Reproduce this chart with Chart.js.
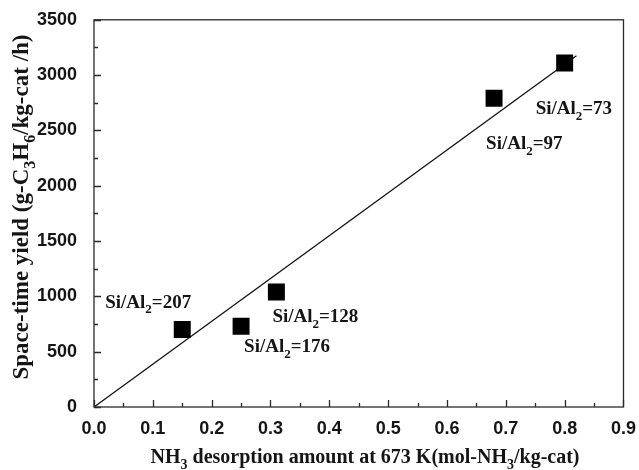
<!DOCTYPE html>
<html>
<head>
<meta charset="utf-8">
<script src="https://cdn.jsdelivr.net/npm/chart.js@4.4.1/dist/chart.umd.min.js"></script>
<style>
  html, body { margin: 0; padding: 0; background: #fff; }
  #wrap { width: 639px; height: 470px; position: relative; }
</style>
</head>
<body>
<div id="wrap"><canvas id="chart" width="639" height="470"></canvas></div>
<script>
// NH3 desorption amount vs space-time yield
const acidity = [0.15, 0.25, 0.31, 0.68, 0.80];
const yieldValues = [700, 730, 1040, 2790, 3110];
const ratioLabels = ['207', '176', '128', '97', '73'];
const fitX = [0, 0.82];
const fitY = [0, 3175];
const xTickValues = [0, 0.1, 0.2, 0.3, 0.4, 0.5, 0.6, 0.7, 0.8, 0.9];
const yTickValues = [0, 500, 1000, 1500, 2000, 2500, 3000, 3500];

const serif = '"Liberation Serif", "Times New Roman", serif';
const sans = '"Liberation Sans", Arial, sans-serif';
const ink = '#151515';

// label offsets from their point (px)
const labelOffsets = [[-77, -22], [3, 26], [-4, 30], [-8, 51], [-29, 51]];

// draws text with subscripts; parts: [text, isSub]
function drawParts(ctx, parts, x, y, size) {
    let cx = x;
    parts.forEach(p => {
        const sub = p[1];
        ctx.font = 'bold ' + (sub ? Math.round(size * 0.68) : size) + 'px ' + serif;
        ctx.fillText(p[0], cx, sub ? y + size * 0.3 : y);
        cx += ctx.measureText(p[0]).width;
    });
    return cx - x;
}
function partsWidth(ctx, parts, size) {
    let w = 0;
    parts.forEach(p => {
        ctx.font = 'bold ' + (p[1] ? Math.round(size * 0.68) : size) + 'px ' + serif;
        w += ctx.measureText(p[0]).width;
    });
    return w;
}

const framePlugin = {
    id: 'frame',
    afterDraw(chart) {
        const ctx = chart.ctx;
        const a = chart.chartArea;
        const xs = chart.scales.x, ys = chart.scales.y;
        ctx.save();
        ctx.strokeStyle = '#2a2a2a';
        ctx.lineWidth = 1.3;
        ctx.strokeRect(a.left, a.top, a.right - a.left, a.bottom - a.top);

        // inside ticks, longer on labelled values
        ctx.beginPath();
        for (let i = 0; i <= 18; i++) {
            const px = Math.round(xs.getPixelForValue(i * 0.05)) + 0.5;
            ctx.moveTo(px, a.bottom);
            ctx.lineTo(px, a.bottom - (i % 2 ? 4 : 7));
        }
        for (let i = 0; i <= 14; i++) {
            const py = Math.round(ys.getPixelForValue(i * 250)) + 0.5;
            ctx.moveTo(a.left, py);
            ctx.lineTo(a.left + (i % 2 ? 4 : 7), py);
        }
        ctx.stroke();

        ctx.fillStyle = ink;
        ctx.textBaseline = 'alphabetic';
        ctx.textAlign = 'left';

        // point annotations
        acidity.forEach((v, i) => {
            const px = xs.getPixelForValue(v) + labelOffsets[i][0];
            const py = ys.getPixelForValue(yieldValues[i]) + labelOffsets[i][1];
            drawParts(ctx, [['Si/Al', false], ['2', true], ['=' + ratioLabels[i], false]], px, py, 19);
        });

        // x axis title
        const xt = [['NH', false], ['3', true], [' desorption amount at 673 K(mol-NH', false], ['3', true], ['/kg-cat)', false]];
        const xw = partsWidth(ctx, xt, 20);
        drawParts(ctx, xt, 365 - xw / 2, 463, 20);

        // y axis title
        const yt = [['Space-time yield (g-C', false], ['3', true], ['H', false], ['6', true], ['/kg-cat /h)', false]];
        const yw = partsWidth(ctx, yt, 23);
        ctx.translate(28, 207);
        ctx.rotate(-Math.PI / 2);
        drawParts(ctx, yt, -yw / 2, 0, 23);
        ctx.restore();
    }
};

new Chart(document.getElementById('chart'), {
    type: 'scatter',
    data: {
        datasets: [
            {
                label: 'samples',
                data: acidity.map((v, i) => ({ x: v, y: yieldValues[i] })),
                pointStyle: 'rect',
                pointRadius: 12,
                pointHoverRadius: 12,
                backgroundColor: '#000',
                borderColor: '#000',
                borderWidth: 0
            },
            {
                label: 'fit',
                type: 'line',
                data: fitX.map((v, i) => ({ x: v, y: fitY[i] })),
                borderColor: '#111',
                borderWidth: 1.3,
                pointRadius: 0,
                fill: false
            }
        ]
    },
    options: {
        responsive: false,
        animation: false,
        devicePixelRatio: 1,
        layout: { padding: { left: 0, right: 9, top: 15, bottom: 0 } },
        plugins: { legend: { display: false }, tooltip: { enabled: false } },
        scales: {
            x: {
                type: 'linear',
                min: 0, max: 0.9,
                afterBuildTicks: s => { s.ticks = xTickValues.map(v => ({ value: v })); },
                afterFit: s => { s.height = 63; },
                grid: { display: false },
                border: { display: false },
                ticks: {
                    padding: 3,
                    color: ink,
                    font: { family: sans, size: 18, weight: 'bold' },
                    callback: v => v.toFixed(1)
                }
            },
            y: {
                min: 0, max: 3500,
                afterBuildTicks: s => { s.ticks = yTickValues.map(v => ({ value: v })); },
                afterFit: s => { s.width = 94; },
                grid: { display: false },
                border: { display: false },
                ticks: {
                    padding: 9,
                    color: ink,
                    font: { family: sans, size: 18, weight: 'bold' },
                    callback: v => String(v)
                }
            }
        }
    },
    plugins: [framePlugin]
});
</script>
</body>
</html>
